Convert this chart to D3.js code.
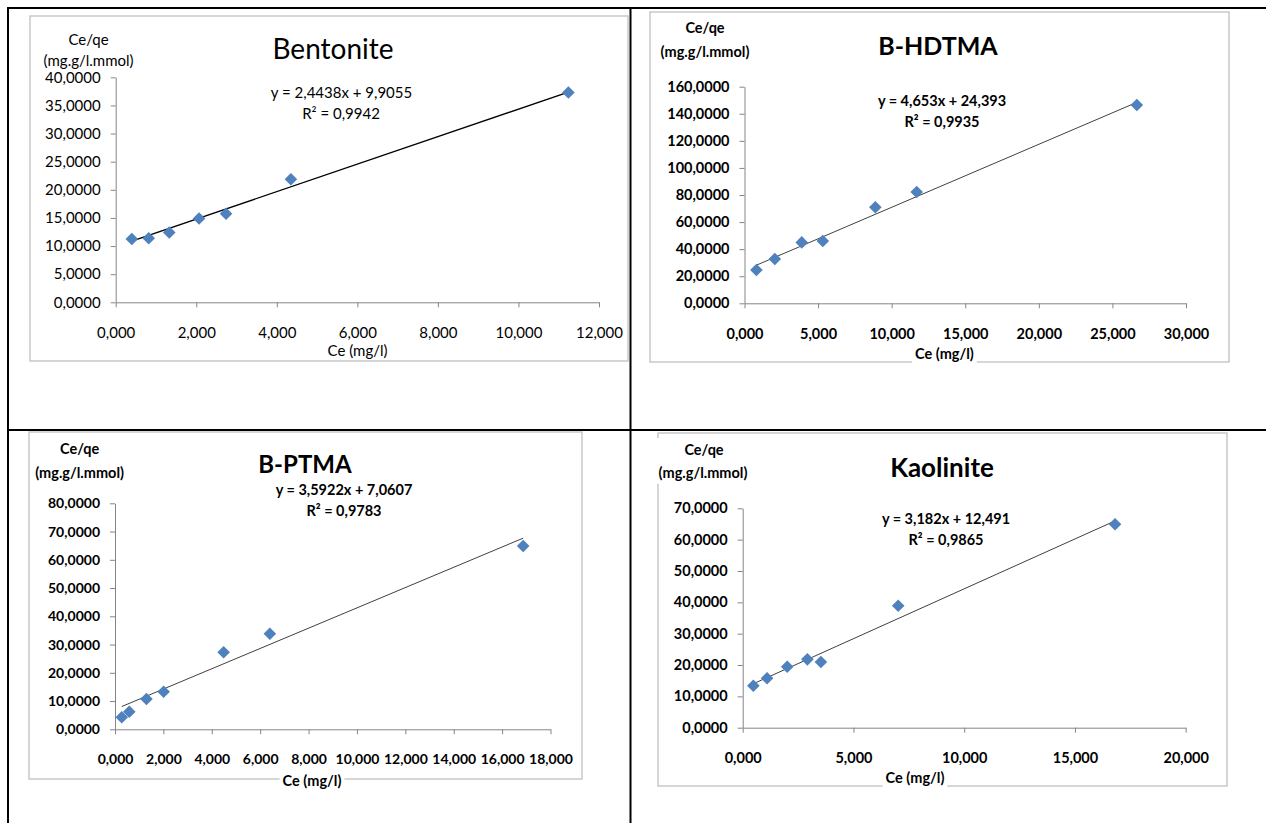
<!DOCTYPE html>
<html>
<head>
<meta charset="utf-8">
<script src="https://cdn.jsdelivr.net/npm/d3@7"></script>
<style>
  html, body { margin: 0; padding: 0; background: #fff; }
  svg { display: block; }
  text { font-family: Lato, "Noto Sans", sans-serif; fill: #000; }
</style>
</head>
<body>
<svg id="chart" width="1266" height="823"></svg>
<script>
// ---------------- DATA ----------------
const panelTitles = ["Bentonite", "B-HDTMA", "B-PTMA", "Kaolinite"];

const bentoniteCe   = [0.40, 0.82, 1.33, 2.07, 2.74, 4.35, 11.24];
const bentoniteCeQe = [11.25, 11.38, 12.40, 14.90, 15.75, 21.87, 37.30];

const hdtmaCe   = [0.81, 2.06, 3.89, 5.32, 8.89, 11.70, 26.66];
const hdtmaCeQe = [24.6, 32.7, 45.0, 46.0, 70.9, 82.2, 146.5];

const ptmaCe   = [0.28, 0.59, 1.30, 2.01, 4.49, 6.40, 16.87];
const ptmaCeQe = [4.25, 6.2, 10.7, 13.3, 27.25, 33.8, 64.9];

const kaoliniteCe   = [0.48, 1.10, 2.01, 2.92, 3.53, 7.02, 16.81];
const kaoliniteCeQe = [13.4, 15.76, 19.47, 21.8, 20.96, 38.9, 64.9];

const trendSlopes     = [2.4438, 4.653, 3.5922, 3.182];
const trendIntercepts = [9.9055, 24.393, 7.0607, 12.491];
const equationLabels  = ["y = 2,4438x + 9,9055", "y = 4,653x + 24,393", "y = 3,5922x + 7,0607", "y = 3,182x + 12,491"];
const r2Labels        = ["R² = 0,9942", "R² = 0,9935", "R² = 0,9783", "R² = 0,9865"];

const bentoniteXTicks = [0, 2, 4, 6, 8, 10, 12];
const bentoniteYTicks = [0, 5, 10, 15, 20, 25, 30, 35, 40];
const hdtmaXTicks = [0, 5, 10, 15, 20, 25, 30];
const hdtmaYTicks = [0, 20, 40, 60, 80, 100, 120, 140, 160];
const ptmaXTicks = [0, 2, 4, 6, 8, 10, 12, 14, 16, 18];
const ptmaYTicks = [0, 10, 20, 30, 40, 50, 60, 70, 80];
const kaoliniteXTicks = [0, 5, 10, 15, 20];
const kaoliniteYTicks = [0, 10, 20, 30, 40, 50, 60, 70];

const yAxisTitle = ["Ce/qe", "(mg.g/l.mmol)"];
const xAxisTitle = "Ce (mg/l)";

// ---------------- LAYOUT ----------------
const layouts = [
  { xs: bentoniteCe, ys: bentoniteCeQe, xt: bentoniteXTicks, yt: bentoniteYTicks,
    xr: [115.7, 599], yr: [302.3, 77.3],
    box: [30, 16, 598, 345], weight: 400, lineColor: "#000", lineW: 1.4,
    title: [333, 49, 28], yT: [[88.6, 40], [88.6, 60.7]], yTSize: 15,
    eq: [[341.5, 92.7], [341, 113.3]], eqSize: 15, xT: [357.6, 350.7], xTBg: false, yTBg: false,
    tickSize: 15 },
  { xs: hdtmaCe, ys: hdtmaCeQe, xt: hdtmaXTicks, yt: hdtmaYTicks,
    xr: [744.5, 1186], yr: [303.3, 86.7],
    box: [650, 12, 579, 350], weight: 700, lineColor: "#404040", lineW: 1,
    title: [938, 46.7, 25], yT: [[705, 28.3], [705, 51.7]], yTSize: 14.5,
    eq: [[942, 101], [942, 122.3]], eqSize: 14.5, xT: [944.4, 354], xTBg: true, yTBg: true,
    tickSize: 14.5 },
  { xs: ptmaCe, ys: ptmaCeQe, xt: ptmaXTicks, yt: ptmaYTicks,
    xr: [115, 550.5], yr: [729.3, 503.3],
    box: [29, 432, 553, 347], weight: 700, lineColor: "#404040", lineW: 1,
    title: [305, 465, 24], yT: [[79.6, 449.3], [79.6, 472.7]], yTSize: 14.5,
    eq: [[344, 490], [344, 511]], eqSize: 14.5, xT: [312, 781], xTBg: true, yTBg: true,
    tickSize: 14 },
  { xs: kaoliniteCe, ys: kaoliniteCeQe, xt: kaoliniteXTicks, yt: kaoliniteYTicks,
    xr: [742.7, 1185.7], yr: [727.7, 508.3],
    box: [658, 433, 569, 353], weight: 700, lineColor: "#404040", lineW: 1,
    title: [942, 467.7, 26], yT: [[704, 450], [703, 472.7]], yTSize: 14.5,
    eq: [[946, 519], [946, 540]], eqSize: 14.5, xT: [915, 777.7], xTBg: true, yTBg: true,
    tickSize: 14.5 }
];

const locale = d3.formatLocale({ decimal: ",", thousands: ".", grouping: [3], currency: ["", ""] });
const fmtX = locale.format(".3f");
const fmtY = locale.format(".4f");

const diamond = {
  draw(ctx, size) {
    const r = Math.sqrt(size / 2);
    ctx.moveTo(0, -r); ctx.lineTo(r, 0); ctx.lineTo(0, r); ctx.lineTo(-r, 0); ctx.closePath();
  }
};

const svg = d3.select("#chart");

function addBg(g, textSel, pad) {
  const nodes = textSel.nodes();
  let x0 = Infinity, y0 = Infinity, x1 = -Infinity, y1 = -Infinity;
  nodes.forEach(n => { const b = n.getBBox(); x0 = Math.min(x0, b.x); y0 = Math.min(y0, b.y); x1 = Math.max(x1, b.x + b.width); y1 = Math.max(y1, b.y + b.height); });
  g.insert("rect", ":first-child").attr("x", x0 - pad).attr("y", y0 - pad)
    .attr("width", x1 - x0 + 2 * pad).attr("height", y1 - y0 + 2 * pad).attr("fill", "#fff");
}

layouts.forEach((L, i) => {
  const g = svg.append("g");
  // chart box
  g.append("rect").attr("x", L.box[0]).attr("y", L.box[1]).attr("width", L.box[2]).attr("height", L.box[3])
    .attr("fill", "#fff").attr("stroke", "#c0c0c0").attr("stroke-width", 1.3);

  const x = d3.scaleLinear().domain([L.xt[0], L.xt[L.xt.length - 1]]).range(L.xr);
  const y = d3.scaleLinear().domain([L.yt[0], L.yt[L.yt.length - 1]]).range(L.yr);

  // axes
  const gx = g.append("g").attr("transform", `translate(0,${L.yr[0]})`)
    .call(d3.axisBottom(x).tickValues(L.xt).tickFormat(fmtX).tickSizeInner(5).tickSizeOuter(0).tickPadding(20));
  const gy = g.append("g").attr("transform", `translate(${L.xr[0]},0)`)
    .call(d3.axisLeft(y).tickValues(L.yt).tickFormat(fmtY).tickSizeInner(5).tickSizeOuter(0).tickPadding(10));
  [gx, gy].forEach(a => {
    a.select(".domain").attr("stroke", "#868686");
    a.selectAll(".tick line").attr("stroke", "#868686");
    a.selectAll("text").attr("font-family", "Lato, sans-serif").attr("font-size", L.tickSize)
      .attr("font-weight", L.weight).attr("fill", "#000");
  });

  // trendline
  const xmin = d3.min(L.xs), xmax = d3.max(L.xs);
  const line = d3.line().x(d => x(d)).y(d => y(trendSlopes[i] * d + trendIntercepts[i]));
  g.append("path").datum([xmin, xmax]).attr("d", line).attr("fill", "none")
    .attr("stroke", L.lineColor).attr("stroke-width", L.lineW);

  // points
  const sym = d3.symbol().type(diamond).size(2 * 6.3 * 6.3);
  g.append("g").selectAll("path").data(L.xs.map((d, k) => [d, L.ys[k]])).join("path")
    .attr("d", sym).attr("transform", d => `translate(${x(d[0])},${y(d[1])})`)
    .attr("fill", "#4f81bd");

  // title
  g.append("text").attr("x", L.title[0]).attr("y", L.title[1]).attr("dy", "0.35em")
    .attr("text-anchor", "middle").attr("font-size", L.title[2]).attr("font-weight", L.weight)
    .text(panelTitles[i]);

  // y-axis title
  const yg = g.append("g");
  const yts = yg.selectAll("text").data(yAxisTitle).join("text")
    .attr("x", (d, k) => L.yT[k][0]).attr("y", (d, k) => L.yT[k][1]).attr("dy", "0.35em")
    .attr("text-anchor", "middle").attr("font-size", L.yTSize).attr("font-weight", L.weight).text(d => d);
  if (L.yTBg) addBg(yg, yts, 3);

  // equation
  g.append("text").attr("x", L.eq[0][0]).attr("y", L.eq[0][1]).attr("dy", "0.35em")
    .attr("text-anchor", "middle").attr("font-size", L.eqSize).attr("font-weight", L.weight).text(equationLabels[i]);
  g.append("text").attr("x", L.eq[1][0]).attr("y", L.eq[1][1]).attr("dy", "0.35em")
    .attr("text-anchor", "middle").attr("font-size", L.eqSize).attr("font-weight", L.weight).text(r2Labels[i]);

  // x-axis title
  const xg = g.append("g");
  const xts = xg.append("text").attr("x", L.xT[0]).attr("y", L.xT[1]).attr("dy", "0.35em")
    .attr("text-anchor", "middle").attr("font-size", L.yTSize).attr("font-weight", L.weight).text(xAxisTitle);
  if (L.xTBg) addBg(xg, xts, 3);
});

// table lines
const tbl = svg.append("g").attr("stroke", "#000").attr("stroke-width", 2);
tbl.append("line").attr("x1", 7).attr("x2", 1266).attr("y1", 8).attr("y2", 8);
tbl.append("line").attr("x1", 7).attr("x2", 1266).attr("y1", 430).attr("y2", 430);
tbl.append("line").attr("x1", 8).attr("x2", 8).attr("y1", 7).attr("y2", 823);
tbl.append("line").attr("x1", 630.5).attr("x2", 630.5).attr("y1", 7).attr("y2", 823);
</script>
</body>
</html>
